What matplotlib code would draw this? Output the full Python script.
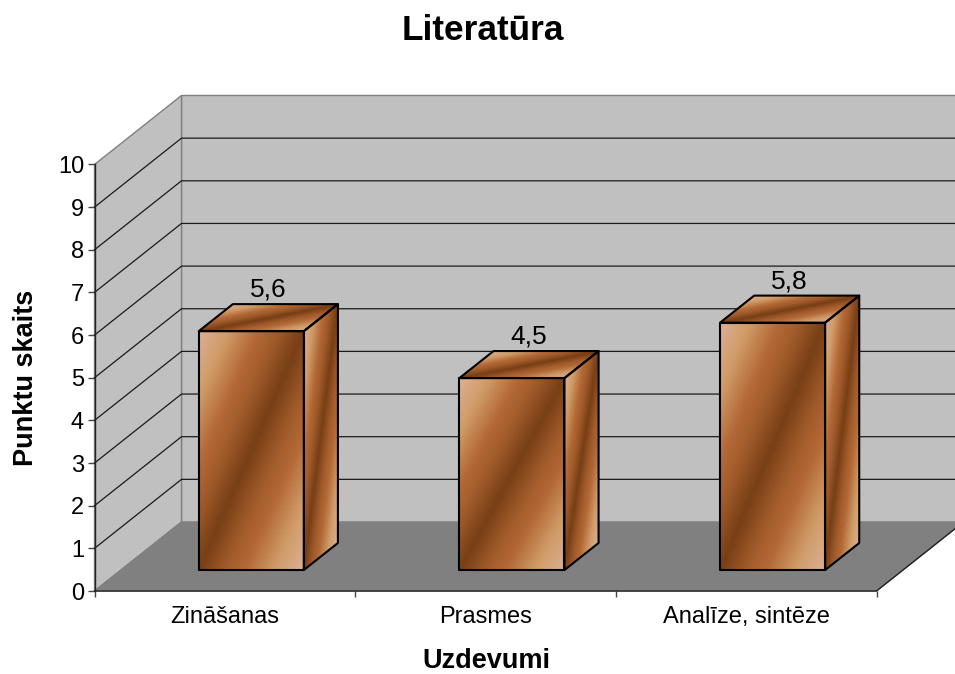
import numpy as np
import matplotlib
matplotlib.use("Agg")
import matplotlib.pyplot as plt
from matplotlib.colors import LinearSegmentedColormap
from matplotlib.patches import Polygon

plt.rcParams['font.family'] = ['Liberation Sans', 'DejaVu Sans']

# data
categories = ['Zināšanas', 'Prasmes', 'Analīze, sintēze']
values = [5.6, 4.5, 5.8]
y_ticks = list(range(0, 11))

title = 'Literatūra'
x_label = 'Uzdevumi'
y_label = 'Punktu skaits'

# 3d look: how far the back of the box is moved, in data units
DEPTH_X = 87 / 260.67
DEPTH_Y = 69 / 42.65
BAR_WIDTH = 0.403
BAR_FRONT = 0.304
BAR_BACK = 0.696

WALL = '#c0c0c0'
FLOOR = '#808080'
EDGE = '#808080'

wood = LinearSegmentedColormap.from_list('wood', [
    (0.00, '#dcb098'),
    (0.14, '#d09c68'),
    (0.28, '#b46a38'),
    (0.38, '#a05a2a'),
    (0.50, '#773f16'),
    (0.62, '#a05a2a'),
    (0.72, '#b46a38'),
    (0.86, '#d09c68'),
    (1.00, '#dcb098'),
])


def project(x, y, depth):
    return x + depth * DEPTH_X, y + depth * DEPTH_Y


def wall_poly(ax, points, color, zorder=1):
    xy = [project(*p) for p in points]
    ax.add_patch(Polygon(xy, closed=True, facecolor=color, edgecolor=EDGE, linewidth=1,
                         clip_on=False, zorder=zorder))


def wood_face(ax, origin, du, dv):
    # du runs left to right on the face, dv runs upwards (or to the back)
    s, t = np.meshgrid(np.linspace(0, 1, 41), np.linspace(0, 1, 41))
    x0, y0, d0 = origin
    px, py = project(x0 + s * du[0] + t * dv[0],
                     y0 + s * du[1] + t * dv[1],
                     d0 + s * du[2] + t * dv[2])
    ax.pcolormesh(px, py, (s + 1 - t) / 2, cmap=wood, vmin=0, vmax=1, shading='gouraud',
                  clip_on=False, zorder=3)
    corners = [project(x0, y0, d0),
               project(x0 + du[0], y0 + du[1], d0 + du[2]),
               project(x0 + du[0] + dv[0], y0 + du[1] + dv[1], d0 + du[2] + dv[2]),
               project(x0 + dv[0], y0 + dv[1], d0 + dv[2])]
    ax.add_patch(Polygon(corners, closed=True, fill=False, edgecolor='black', linewidth=1.5,
                         joinstyle='round', clip_on=False, zorder=4))


def draw_bar(ax, center, value):
    left = center - BAR_WIDTH / 2
    depth = BAR_BACK - BAR_FRONT
    wood_face(ax, (left, 0, BAR_FRONT), (BAR_WIDTH, 0, 0), (0, value, 0))
    wood_face(ax, (left + BAR_WIDTH, 0, BAR_FRONT), (0, 0, depth), (0, value, 0))
    wood_face(ax, (left, value, BAR_FRONT), (BAR_WIDTH, 0, 0), (0, 0, depth))
    ax.annotate(str(value).replace('.', ','), project(center, value, 0.5), xytext=(0, 15),
                textcoords='offset points', ha='center', va='baseline', fontsize=19, color='black',
                annotation_clip=False, zorder=5)


fig = plt.figure(figsize=(9.55, 6.74), dpi=100, facecolor='white')
ax = fig.add_axes([94.5 / 955, (674 - 591) / 674, 782 / 955, (591 - 164.5) / 674])
ax.patch.set_visible(False)

n = len(categories)
top = y_ticks[-1]

# walls and floor
wall_poly(ax, [(0, 0, 1), (n, 0, 1), (n, top, 1), (0, top, 1)], WALL)
wall_poly(ax, [(0, 0, 0), (0, 0, 1), (0, top, 1), (0, top, 0)], WALL)
wall_poly(ax, [(0, 0, 0), (n, 0, 0), (n, 0, 1), (0, 0, 1)], FLOOR)

# gridlines on back and side wall
for tick in y_ticks[1:-1]:
    gx, gy = zip(project(0, tick, 0), project(0, tick, 1), project(n, tick, 1))
    ax.plot(gx, gy, color='#1a1a1a', linewidth=0.9, clip_on=False, zorder=2)

# dark front and right edge of the floor
fx, fy = zip(project(0, 0, 0), project(n, 0, 0), project(n, 0, 1))
ax.plot(fx, fy, color='#222222', linewidth=1, clip_on=False, zorder=2)

for i, value in enumerate(values):
    draw_bar(ax, i + 0.5, value)

ax.set_xlim(0, n)
ax.set_ylim(0, top)

for side in ['top', 'right', 'bottom']:
    ax.spines[side].set_visible(False)
ax.spines['left'].set_color('#222222')
ax.spines['left'].set_linewidth(1)

ax.set_yticks(y_ticks)
ax.set_yticklabels([str(t) for t in y_ticks], fontsize=17)
ax.tick_params(axis='y', length=5, width=1, color='#444444', pad=2.5)

ax.set_xticks(np.arange(n + 1))
ax.set_xticklabels([])
ax.set_xticks(np.arange(n) + 0.5, minor=True)
ax.set_xticklabels(categories, minor=True, fontsize=17)
ax.tick_params(axis='x', which='major', length=4, width=1, color='#444444')
ax.tick_params(axis='x', which='minor', length=0, pad=11)

fig.text(483 / 955, 1 - 30 / 674, title, fontsize=25.4, fontweight='bold', ha='center', va='center')
fig.text(486 / 955, 1 - 668 / 674, x_label, fontsize=19.5, fontweight='bold', ha='center', va='baseline')
fig.text(26 / 955, 1 - 378 / 674, y_label, fontsize=19.5, fontweight='bold', ha='center', va='center',
         rotation=90)

fig.savefig('out.png', dpi=100)
